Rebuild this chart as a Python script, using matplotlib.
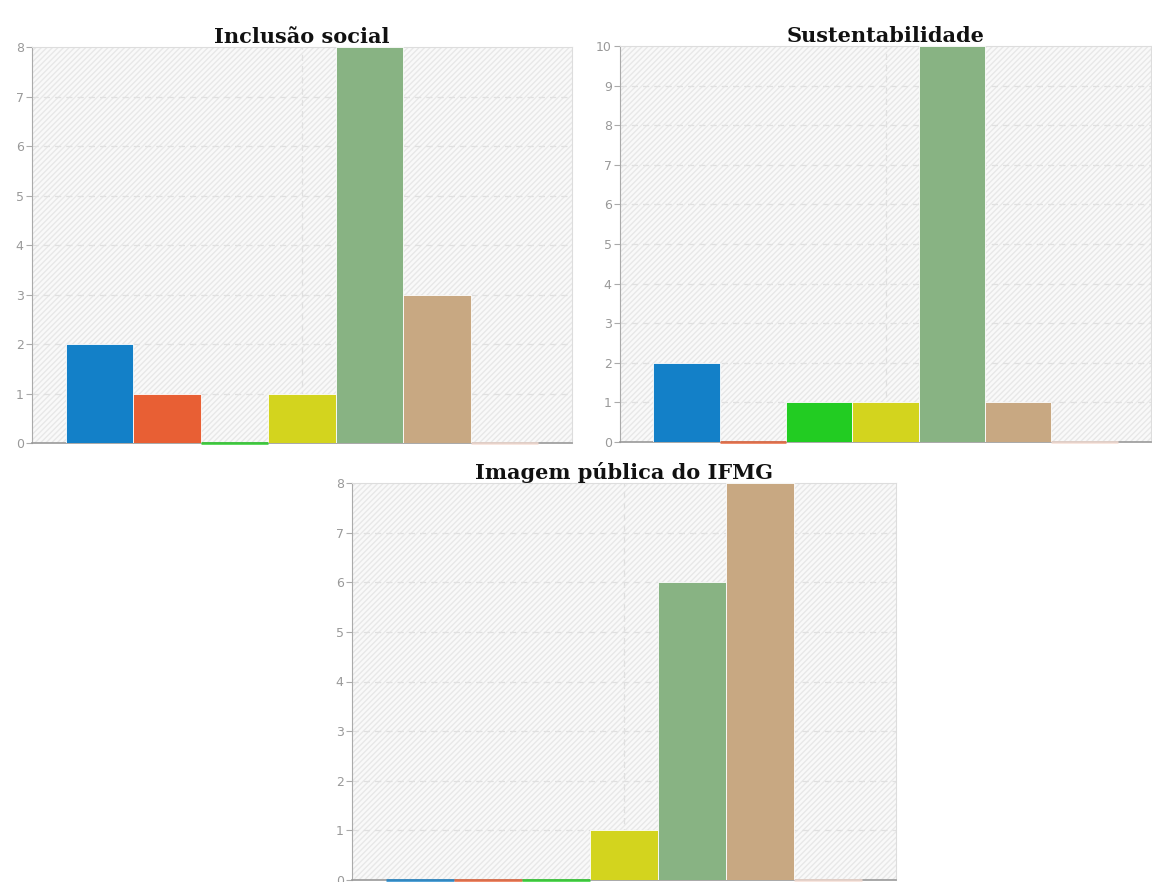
import numpy as np
import matplotlib.pyplot as plt

# dados de cada painel
titulos = ["Inclusão social", "Sustentabilidade", "Imagem pública do IFMG"]
inclusao = [2, 1, 0, 1, 8, 3, 0]
sustent = [2, 0, 1, 1, 10, 1, 0]
imagem = [0, 0, 0, 1, 6, 8, 0]
series = [inclusao, sustent, imagem]
ymax = [8, 10, 8]

cores = ["#1380c8", "#e85f34", "#22cc22", "#d3d41e", "#88b383", "#c8a882", "#f6ddd3"]

fig = plt.figure(figsize=(11.52, 8.82), dpi=100)
posicoes = [
    [32/1152, 1-443/882, 540/1152, 396/882],
    [620/1152, 1-442/882, 531/1152, 396/882],
    [352/1152, 1-880/882, 544/1152, 397/882],
]

largura = 0.125
n = len(cores)
offs = (np.arange(n) - (n-1)/2) * largura

for pos, titulo, vals, ym in zip(posicoes, titulos, series, ymax):
    ax = fig.add_axes(pos)
    ax.set_facecolor("#f9f9f9")
    # fundo hachurado
    ax.fill_between([-0.5, 0.5], 0, ym, facecolor="none", edgecolor="#e8e8e8",
                    hatch="//////", linewidth=0, zorder=0)
    ax.set_xlim(-0.5, 0.5)
    ax.set_ylim(0, ym)
    ax.set_yticks(np.arange(0, ym+1, 1))
    ax.set_xticks([])
    ax.grid(False)
    for y in range(1, ym):
        ax.axhline(y, color="#e0e0e0", linestyle=(0, (5, 4)), linewidth=0.9, zorder=1)
    ax.axvline(0, color="#e0e0e0", linestyle=(0, (5, 4)), linewidth=0.9, zorder=1)
    for i, v in enumerate(vals):
        if v > 0:
            ax.bar(offs[i], v, width=largura, color=cores[i], edgecolor="white",
                   linewidth=0.6, zorder=3)
        else:
            ax.plot([offs[i]-largura/2, offs[i]+largura/2], [0, 0], color=cores[i],
                    linewidth=2, alpha=0.8, solid_capstyle="butt", zorder=4, clip_on=False)
    for s in ["top", "right"]:
        ax.spines[s].set_color("#dddddd")
    ax.spines["left"].set_color("#aaaaaa")
    ax.spines["bottom"].set_color("#999999")
    ax.spines["bottom"].set_linewidth(1.2)
    ax.tick_params(axis="y", colors="#aaaaaa", labelcolor="#999999", labelsize=9,
                   length=4, pad=2)
    ax.set_title(titulo, family="DejaVu Serif", fontweight="bold", fontsize=15,
                 color="#111111", pad=3)

fig.savefig("out.png", dpi=100)
